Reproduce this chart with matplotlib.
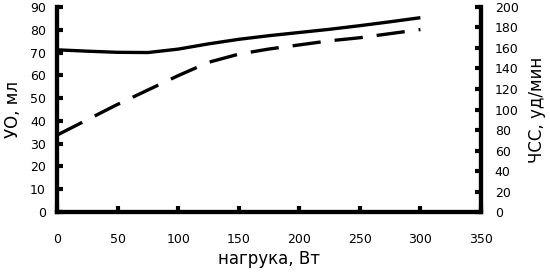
import numpy as np
import matplotlib
matplotlib.use("Agg")
import matplotlib.pyplot as plt

plt.rcParams['font.family'] = ['DejaVu Sans']

# нагрузка, Вт
load = [0, 25, 50, 75, 100, 125, 150, 175, 200, 225, 250, 275, 300]
# УО, мл (левая ось)
uo = [71.2, 70.6, 70.1, 70.0, 71.5, 73.8, 75.8, 77.4, 78.8, 80.2, 81.8, 83.5, 85.3]
# ЧСС, уд/мин (правая ось)
hr = [75, 90, 105, 119, 133, 146, 154, 159, 163, 167, 170, 174, 178]

fig = plt.figure(figsize=(5.5, 2.79), dpi=100)
ax = fig.add_axes([0.1036, 0.240, 0.7709, 0.735])
ax2 = ax.twinx()

ax.plot(load, uo, color='black', lw=2.4, solid_capstyle='butt')
ax2.plot(load, hr, color='black', lw=2.4, dashes=(8.5, 4.2), dash_capstyle='butt')

ax.set_xlim(0, 350)
ax.set_ylim(0, 90)
ax2.set_ylim(0, 200)
ax.set_xticks(np.arange(0, 351, 50))
ax.set_yticks(np.arange(0, 91, 10))
ax2.set_yticks(np.arange(0, 201, 20))

for a in (ax, ax2):
    a.spines['top'].set_visible(False)
    for s in ('left', 'right', 'bottom'):
        a.spines[s].set_linewidth(3)

ax.tick_params(axis='x', direction='in', length=4, width=3, pad=15, labelsize=9)
ax.tick_params(axis='y', direction='in', length=4, width=3, pad=8, labelsize=9)
ax2.tick_params(axis='y', direction='in', length=4, width=3, pad=10, labelsize=9)

ax.set_xlabel('нагрука, Вт', fontsize=12, labelpad=3)
ax.set_ylabel('УО, мл', fontsize=12, labelpad=6)
ax2.set_ylabel('ЧСС, уд/мин', fontsize=12, labelpad=7)

fig.savefig('out.png', dpi=100)
